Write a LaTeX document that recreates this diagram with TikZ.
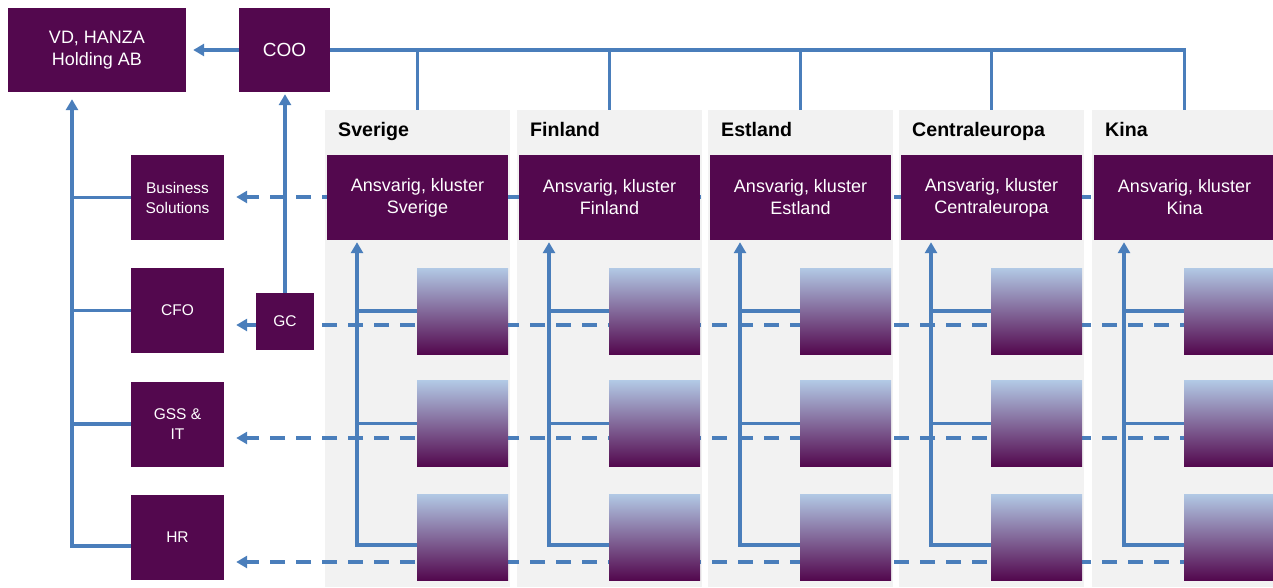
\documentclass[tikz,border=0pt]{standalone}
\usepackage{fontspec}
\setmainfont{Liberation Sans}
\usetikzlibrary{arrows.meta}
\definecolor{hzpurple}{RGB}{83,8,78}
\definecolor{hzblue}{RGB}{74,126,187}
\definecolor{hzgray}{RGB}{242,242,242}
\definecolor{hzlight}{RGB}{178,201,229}
\pgfdeclarelayer{bg}
\pgfdeclarelayer{mid}
\pgfsetlayers{bg,mid,main}
\begin{document}
\begin{tikzpicture}[x=1pt,y=-1pt,
  box/.style={fill=hzpurple,text=white,align=center,inner sep=0pt,font=\fontsize{18}{22}\selectfont},
  func/.style={box,minimum width=93pt,minimum height=85pt,font=\fontsize{15.5}{20}\selectfont},
  kluster/.style={box,minimum width=181pt,minimum height=85pt},
  unit/.style={minimum width=91pt,minimum height=86pt,inner sep=0pt,top color=hzlight,bottom color=hzpurple},
  panel/.style={fill=hzgray,anchor=north west,inner sep=0pt,minimum width=185pt,minimum height=477pt},
  title/.style={anchor=base west,inner sep=0pt,font=\fontsize{19.6}{22}\selectfont\bfseries},
  link/.style={draw=hzblue,line width=3.5pt},
  arr/.style={link,-{Triangle[length=11pt,width=12pt]}},
  darr/.style={arr,dash pattern=on 15pt off 11pt}]
\useasboundingbox (0,0) rectangle (1273,587);
    \node[box,minimum width=178pt,minimum height=84pt] (VD) at (97,50) {VD, HANZA\\Holding AB};
    \node[box,minimum width=91pt,minimum height=84pt,font=\fontsize{19}{22}\selectfont] (COO) at (284.5,50) {COO};
    \node[func] (BS) at (177.5,197.5) {Business\\Solutions};
    \node[func] (CFO) at (177.5,310.5) {CFO};
    \node[func] (GSS) at (177.5,424) {GSS \&\\IT};
    \node[func] (HR) at (177.5,537.5) {HR};
    \node[func,minimum width=58pt,minimum height=57pt] (GC) at (285,321.5) {GC};
    \foreach \k/\land [count=\i] in {327/Sverige,519/Finland,710/Estland,901/Centraleuropa,1094/Kina}{
      \begin{pgfonlayer}{bg}
        \node[panel] (P\i) at (\k-2,110) {};
      \end{pgfonlayer}
      \node[title] (H\i) at (\k+11,136) {\land};
      \node[kluster] (K\i) at (\k+90.5,197.5) {Ansvarig, kluster\\\land};
      \foreach \y [count=\j] in {311,423.5,537}
        \node[unit] (U\i-\j) at (\k+135.5,\y) {};
      \coordinate (V\i) at (\k+30,545);
      \coordinate (T\i) at (\k+90.5,110);
      \draw[arr,shorten >=2pt] ([yshift=-8pt]U\i-3.west) -- (V\i) -- (V\i |- K\i.south);
      \draw[link] (U\i-1.west) -- (U\i-1.west -| V\i);
      \draw[link] (U\i-2.west) -- (U\i-2.west -| V\i);
      \draw[link] (T\i |- COO.east) -- (T\i);
    }
    \draw[link] (COO.east) -| (T5);
    \draw[arr,shorten >=7pt] (COO.west) -- (VD.east |- COO.west);
    \draw[arr,shorten >=2pt] (GC.north) -- (GC.north |- COO.south);
    \coordinate (L) at (72,546);
    \draw[arr,shorten >=7pt] (HR.west |- L) -- (L) -- (L |- VD.south);
    \draw[link] (BS.west) -- (BS.west -| L);
    \draw[link] (CFO.west) -- (CFO.west -| L);
    \draw[link] (GSS.west) -- (GSS.west -| L);
    \begin{pgfonlayer}{mid}
      \foreach \f/\y [count=\r] in {BS/197,CFO/325,GSS/438,HR/562}{
        \coordinate (R\r) at (1273,\y);
        \draw[darr,shorten >=12pt] (R\r) -- (R\r -| \f.east);
      }
    \end{pgfonlayer}
\end{tikzpicture}
\end{document}
